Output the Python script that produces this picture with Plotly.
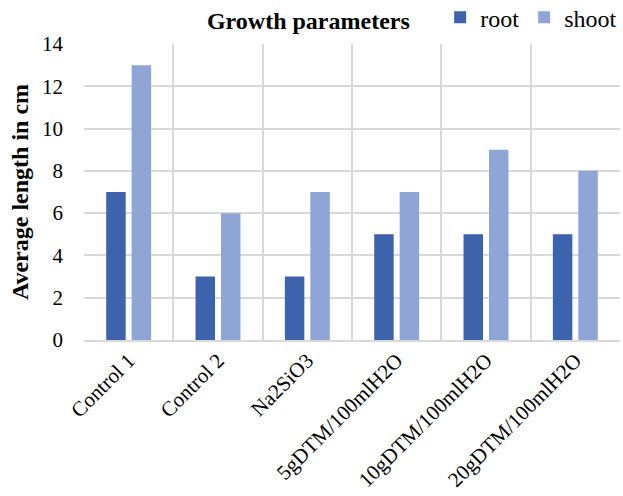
import plotly.graph_objects as go

# Growth measurements per treatment (cm)
treatments = ["Control 1", "Control 2", "Na2SiO3", "5gDTM/100mlH2O",
              "10gDTM/100mlH2O", "20gDTM/100mlH2O"]
root_len = [7, 3, 3, 5, 5, 5]
shoot_len = [13, 6, 7, 7, 9, 8]

FONT = "Liberation Serif"
GRID = "#D9D9D9"

fig = go.Figure()
fig.add_trace(go.Bar(name="root", x=treatments, y=root_len,
                     marker=dict(color="#3E63AD", line=dict(width=0))))
fig.add_trace(go.Bar(name="shoot", x=treatments, y=shoot_len,
                     marker=dict(color="#8FA5D6", line=dict(width=0))))

fig.update_layout(
    width=623, height=496,
    margin=dict(l=84, r=3, t=44, b=156, autoexpand=False),
    paper_bgcolor="white", plot_bgcolor="white",
    barmode="group", bargap=0.43, bargroupgap=0.235,
    font=dict(family=FONT, color="black", size=21),
    title=dict(text="<b>Growth parameters</b>", font=dict(size=24, family=FONT),
               x=0.495, xref="container", xanchor="center",
               y=1 - 21 / 496, yref="container", yanchor="middle"),
    legend=dict(orientation="h", x=1.004, xanchor="right",
                y=1.165, yanchor="top",
                xref="paper", yref="paper",
                font=dict(size=24, family=FONT), itemwidth=30,
                traceorder="normal", bgcolor="rgba(0,0,0,0)"),
    showlegend=True,
)

fig.update_xaxes(
    type="category", tickson="boundaries", showgrid=True, gridcolor=GRID,
    gridwidth=2, ticks="", tickangle=-45, tickfont=dict(size=21, family=FONT),
    showline=True, linecolor=GRID, linewidth=2, ticklabelstandoff=-2,
    automargin=False,
)
fig.update_yaxes(
    range=[0, 14], dtick=2, showgrid=True, gridcolor=GRID, gridwidth=2,
    ticks="", tickfont=dict(size=21, family=FONT), zeroline=False,
    showline=False, ticklabelstandoff=20, automargin=False,
    title=dict(text="<b>Average length in cm</b>",
               font=dict(size=24, family=FONT), standoff=6),
)

fig.write_html("out.html")
